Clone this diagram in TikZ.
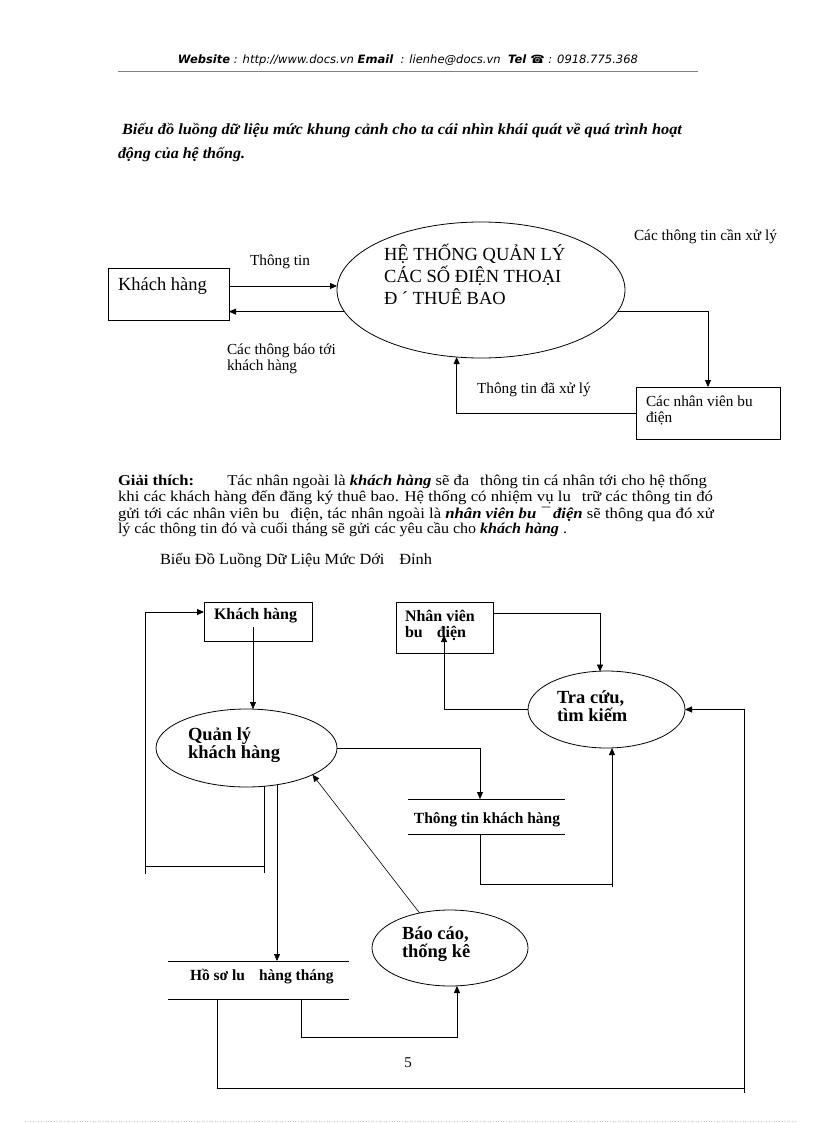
\documentclass[tikz,border=0pt]{standalone}
\usepackage{fontspec}
\setmainfont{Liberation Serif}
\newfontfamily\hdr{DejaVu Sans}
\usetikzlibrary{shapes.geometric,arrows.meta}
\begin{document}
\begin{tikzpicture}[x=1pt,y=-1pt,
  every node/.style={inner sep=0pt, outer sep=0pt},
  box/.style={draw, line width=0.8pt, rectangle},
  oval/.style={draw, line width=0.8pt, ellipse},
  store/.style={rectangle},
  flow/.style={line width=0.8pt, -{Triangle[length=7pt,width=6pt]}},
  plain/.style={line width=0.8pt},
  txt/.style={anchor=west, align=left},
  small/.style={txt, font=\fontsize{15.3}{16}\selectfont},
  big/.style={txt, font=\fontsize{18.5}{22}\selectfont},
  bold2/.style={txt, font=\bfseries\fontsize{16}{16.5}\selectfont},
  boldbig/.style={txt, font=\bfseries\fontsize{18.5}{18}\selectfont},
  para/.style={txt, font=\fontsize{15}{16}\selectfont},
]
\useasboundingbox (0,0) rectangle (816,1123);
\fill[white] (0,0) rectangle (816,1123);

% ---------- header ----------
\node[font=\hdr\fontsize{11.5}{13}\selectfont] (header) at (408,60)
  {\resizebox{460pt}{\height}{{\bfseries\itshape Website}\textit{ : http://www.docs.vn }{\bfseries\itshape Email}\textit{ \ : lienhe@docs.vn \ }{\bfseries\itshape Tel ☎}\textit{ : 0918.775.368}}};
\draw[gray, line width=0.8pt] (118,71) -- (698,71);

% ---------- intro ----------
\node[txt, font=\bfseries\itshape\fontsize{15.5}{17}\selectfont] (intro1) at (122,131)
  {\resizebox{560pt}{\height}{Biểu đồ luồng dữ liệu mức khung cảnh cho ta cái nhìn khái quát về quá trình hoạt}};
\node[txt, font=\bfseries\itshape\fontsize{15.5}{17}\selectfont] (intro2) at (118,155)
  {\resizebox{127pt}{\height}{động của hệ thống.}};

% ---------- context diagram ----------
\node[box, minimum width=121pt, minimum height=52pt] (kh1) at (168.5,294) {};
\node[txt, font=\fontsize{18.5}{20}\selectfont] (kh1t) at (118,286) {Khách hàng};
\node[oval, minimum width=288pt, minimum height=136pt] (sys) at (481,290) {};
\node[big] (syst) at (384,274) {HỆ THỐNG QUẢN LÝ\\CÁC SỐ ĐIỆN THOẠI\\Đ ´ THUÊ BAO};
\node[box, minimum width=144pt, minimum height=52pt] (nv1) at (708,413) {};
\node[small] (nv1t) at (646,410) {Các nhân viên bu\\điện};

\coordinate (c1) at (229,286);
\draw[flow] (c1) -- (c1 -| sys.west);
\draw[flow] (sys.189) -- (sys.189 -| kh1.east);
\draw[flow] (sys.351) -| (nv1.north);
\draw[flow] (nv1.west) -| (sys.250);

\node[small] (l1) at (250,262) {Thông tin};
\node[small] (l2) at (227,359) {Các thông báo tới\\khách hàng};
\node[small] (l3) at (634,237) {Các thông tin cần xử lý};
\node[small] (l4) at (477,390) {Thông tin đã xử lý};

% ---------- explanation ----------
\node[para] (p1) at (118,482)
  {\resizebox{589pt}{\height}{\textbf{Giải thích:}\hspace{30pt}Tác nhân ngoài là \textbf{\textit{khách hàng}} sẽ đa\hspace{6pt} thông tin cá nhân tới cho hệ thống}};
\node[para] (p2) at (118,498)
  {\resizebox{595pt}{\height}{khi các khách hàng đến đăng ký thuê bao. Hệ thống có nhiệm vụ lu\hspace{6pt} trữ các thông tin đó}};
\node[para] (p3) at (118,514)
  {\resizebox{596pt}{\height}{gửi tới các nhân viên bu\hspace{6pt} điện, tác nhân ngoài là \textbf{\textit{nhân viên bu ¯ điện}} sẽ thông qua đó xử}};
\node[para] (p4) at (118,530)
  {\resizebox{449pt}{\height}{lý các thông tin đó và cuối tháng sẽ gửi các yêu cầu cho \textbf{\textit{khách hàng}} .}};

\node[txt, font=\fontsize{15.5}{17}\selectfont] (h2) at (160,561)
  {\resizebox{272pt}{\height}{Biểu Đồ Luồng Dữ Liệu Mức Dới\hspace{14pt}Đỉnh}};

% ---------- lower-level diagram ----------
\node[box, minimum width=108pt, minimum height=39pt] (kh2) at (258,621.5) {};
\node[bold2] (kh2t) at (214,616) {Khách hàng};
\node[box, minimum width=97pt, minimum height=51pt] (nv2) at (444.5,627.5) {};
\node[bold2] (nv2t) at (405,625.5) {Nhân viên\\bu\hspace{14pt}điện};

\node[oval, minimum width=181pt, minimum height=78pt] (ql) at (246.5,748) {};
\node[boldbig] (qlt) at (188,745.5) {Quản lý\\khách hàng};
\node[oval, minimum width=157pt, minimum height=77pt] (tc) at (606.5,709.5) {};
\node[boldbig] (tct) at (557,706.5) {Tra cứu,\\tìm kiếm};
\node[oval, minimum width=156pt, minimum height=76pt] (bc) at (450,948) {};
\node[boldbig] (bct) at (402,944) {Báo cáo,\\thống kê};

\node[store, minimum width=157pt, minimum height=35pt] (ttkh) at (486.5,816.5) {};
\draw[plain] (ttkh.north west) -- (ttkh.north east);
\draw[plain] (ttkh.south west) -- (ttkh.south east);
\node[font=\bfseries\fontsize{15.5}{17}\selectfont] (ttkht) at (487,820) {Thông tin\hspace{4pt}khách hàng};

\node[store, minimum width=181pt, minimum height=38pt] (hs) at (258.5,980) {};
\draw[plain] (hs.north west) -- (hs.north east);
\draw[plain] (hs.south west) -- (hs.south east);
\node[txt, font=\bfseries\fontsize{15.5}{17}\selectfont] (hst) at (190,977) {Hồ sơ lu\hspace{14pt}hàng tháng};

% connectors
\coordinate (k2s) at (253,627);
\draw[flow] (k2s) -- (k2s |- ql.north);

\coordinate (qlb1) at (264,786);
\coordinate (lp1) at (145,866);
\coordinate (k2in) at (204,612);
\draw[flow] (qlb1) |- (lp1) |- (k2in);
\draw[plain] (lp1) -- ++(0,8);
\draw[plain] (qlb1 |- lp1) -- ++(0,7);

\coordinate (qlb2) at (277,785);
\draw[flow] (qlb2) -- (qlb2 |- hs.north);

\coordinate (ttin) at (480,799);
\draw[flow] (ql.east) -| (ttin);

\coordinate (ttout) at (480,834);
\coordinate (e1) at (612,884);
\coordinate (tcb) at (612,748);
\draw[flow] (ttout) |- (e1) -- (tcb);
\draw[plain] (e1) -- ++(0,3);

\coordinate (n2r) at (493,613);
\coordinate (tct2) at (600,671.5);
\draw[flow] (n2r) -| (tct2);

\coordinate (n2in) at (444,635);
\draw[flow] (tc.west) -| (n2in);

\coordinate (hso2) at (217,999);
\coordinate (r1) at (744,1088);
\draw[flow] (hso2) |- (r1) |- (tc.east);
\draw[plain] (r1) -- ++(0,5);

\coordinate (hso1) at (301,999);
\coordinate (b1) at (457,1037);
\coordinate (bcb) at (457,986);
\draw[flow] (hso1) |- (b1) -- (bcb);

\draw[flow, line width=0.6pt] (bc.131) -- (ql.338);

\node[font=\fontsize{15}{17}\selectfont] (pg) at (408,1063) {5};

\draw[gray!45, dotted, line width=0.6pt] (25,1121) -- (795,1121);
\end{tikzpicture}
\end{document}
